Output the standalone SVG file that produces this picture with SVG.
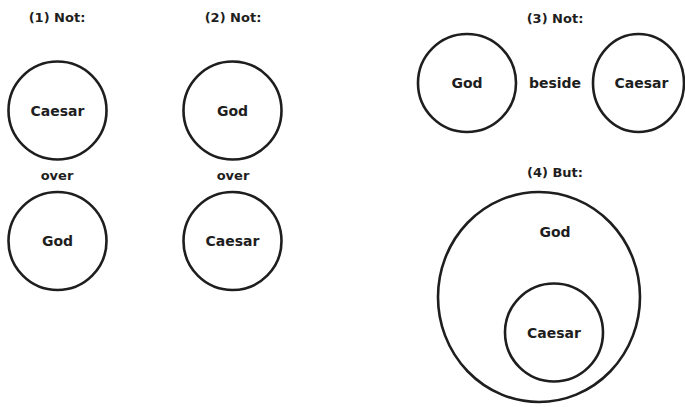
<svg xmlns="http://www.w3.org/2000/svg" width="685" height="407" viewBox="0 0 685 407">
<style>
.c{fill:none;stroke:#1e1e1e;stroke-width:2.6}
.t{font-family:"DejaVu Sans",sans-serif;font-weight:bold;font-size:14px;fill:#1e1e1e;text-anchor:middle;dominant-baseline:central}
.h{font-size:13px}
</style>
<rect width="685" height="407" fill="#ffffff"/>
<g id="labels">
<text class="t h" x="57" y="17">(1) Not:</text>
<text class="t h" x="233" y="17">(2) Not:</text>
<text class="t h" x="555" y="18">(3) Not:</text>
<text class="t h" x="555" y="172">(4) But:</text>
<text class="t h" x="57" y="175">over</text>
<text class="t h" x="233" y="175">over</text>
<text class="t" x="555" y="83">beside</text>
</g>
<g id="n1-caesar"><circle class="c" cx="57.5" cy="110.5" r="49"/><text class="t" x="57.5" y="110.5">Caesar</text></g>
<g id="n1-god"><circle class="c" cx="57.5" cy="241" r="49"/><text class="t" x="57.5" y="241">God</text></g>
<g id="n2-god"><circle class="c" cx="232.5" cy="110.5" r="49"/><text class="t" x="232.5" y="110.5">God</text></g>
<g id="n2-caesar"><circle class="c" cx="232.5" cy="241" r="49"/><text class="t" x="232.5" y="241">Caesar</text></g>
<g id="n3-god"><circle class="c" cx="467" cy="83" r="49"/><text class="t" x="467" y="83">God</text></g>
<g id="n3-caesar"><ellipse class="c" cx="638.5" cy="83" rx="45.5" ry="49"/><text class="t" x="641.5" y="83">Caesar</text></g>
<g id="n4-god"><ellipse class="c" cx="539" cy="297" rx="101" ry="105"/><text class="t" x="555" y="232">God</text></g>
<g id="n4-caesar"><circle class="c" cx="554" cy="332.5" r="49"/><text class="t" x="554" y="333">Caesar</text></g>
<g id="connectors"></g>
</svg>
